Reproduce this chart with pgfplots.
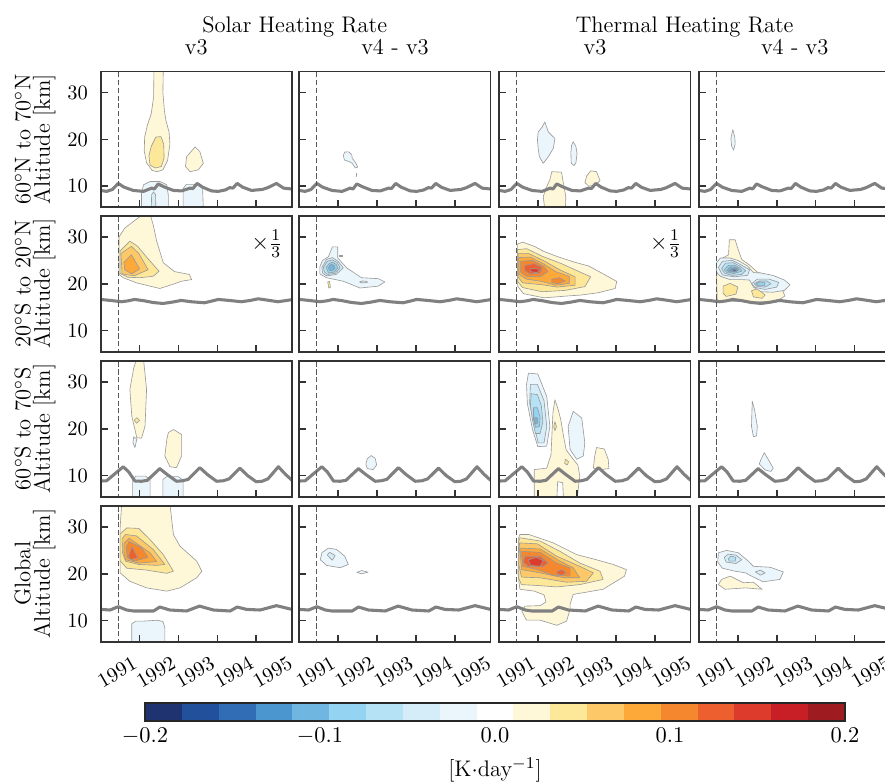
\documentclass[border=0pt]{standalone}
\usepackage{pgfplots}
\usepackage{pgfplotstable}
\pgfplotsset{compat=1.18}
\definecolor{c1}{RGB}{31,51,112}
\definecolor{c2}{RGB}{34,80,155}
\definecolor{c3}{RGB}{49,109,181}
\definecolor{c4}{RGB}{76,150,208}
\definecolor{c5}{RGB}{111,182,224}
\definecolor{c6}{RGB}{148,211,241}
\definecolor{c7}{RGB}{182,226,245}
\definecolor{c8}{RGB}{212,237,248}
\definecolor{c9}{RGB}{234,245,252}
\definecolor{c10}{RGB}{255,255,255}
\definecolor{c11}{RGB}{254,247,216}
\definecolor{c12}{RGB}{252,232,152}
\definecolor{c13}{RGB}{253,201,104}
\definecolor{c14}{RGB}{253,169,58}
\definecolor{c15}{RGB}{245,135,47}
\definecolor{c16}{RGB}{238,95,47}
\definecolor{c17}{RGB}{221,59,43}
\definecolor{c18}{RGB}{200,31,38}
\definecolor{c19}{RGB}{158,27,32}

\pgfplotstableread{
x y
1991.00 9.1
1991.15 8.9
1991.30 9.3
1991.45 10.6
1991.60 9.8
1991.84 9.1
1992.10 8.9
1992.31 9.6
1992.38 9.4
1992.48 10.5
1992.62 9.9
1992.87 9.1
1993.08 9.0
1993.30 9.6
1993.37 9.5
1993.48 10.6
1993.62 9.8
1993.85 9.0
1994.02 8.9
1994.20 9.2
1994.32 9.7
1994.40 9.6
1994.51 10.6
1994.65 9.8
1994.88 9.1
1995.00 9.2
1995.15 9.3
1995.30 9.7
1995.52 10.6
1995.70 9.6
1995.92 9.4
}\tpA
\pgfplotstableread{
x y
1991.00 16.66
1991.25 16.45
1991.53 16.17
1991.70 16.35
1991.87 16.66
1992.10 16.40
1992.35 16.00
1992.60 15.80
1992.85 16.10
1993.07 16.45
1993.35 16.15
1993.67 15.95
1993.85 16.30
1994.02 16.66
1994.30 16.45
1994.62 16.17
1994.85 16.45
1995.05 16.80
1995.30 16.50
1995.56 16.17
1995.75 16.40
1995.95 16.66
}\tpB
\pgfplotstableread{
x y
1991.00 8.85
1991.15 8.90
1991.58 11.90
1991.72 10.80
1991.88 8.85
1992.05 8.80
1992.20 9.00
1992.52 11.50
1992.70 10.30
1992.95 8.80
1993.10 8.90
1993.25 9.20
1993.55 11.70
1993.75 10.20
1993.98 8.80
1994.15 8.90
1994.30 9.30
1994.58 11.60
1994.78 10.00
1995.00 8.70
1995.15 8.80
1995.30 9.30
1995.57 11.90
1995.75 10.30
1995.92 9.00
}\tpC
\pgfplotstableread{
x y
1991.00 12.40
1991.24 12.27
1991.45 12.98
1991.67 12.27
1991.84 12.06
1992.36 12.06
1992.52 12.91
1992.78 12.27
1993.21 12.06
1993.54 13.10
1993.90 12.27
1994.33 12.06
1994.51 12.91
1994.75 12.40
1995.10 12.27
1995.52 13.20
1995.92 12.40
}\tpD

\pgfplotsset{
  panel/.style={anchor=south west, scale only axis, width=93.37pt, height=66.28pt,
    xmin=1991, xmax=1995.92, ymin=5.5, ymax=34.5,
    xtick={1991,1992,1993,1994,1995}, ytick={10,20,30},
    xticklabels={}, yticklabels={},
    tick align=inside, xtick pos=left, ytick pos=left,
    major tick length=3.5pt, axis on top,
    axis line style={line width=0.8pt, black!80},
    tick style={line width=0.8pt, black!80},
    tick label style={font=\fontsize{10}{12}\selectfont},
    yticklabel style={xshift=-2.7pt}},
  lab/.style={yticklabels={10,20,30}, ylabel={#1},
    ylabel style={align=center, font=\fontsize{11}{9.5}\selectfont,
      at={(axis description cs:-0.2337,0.5)}, anchor=south, inner sep=0pt}},
  xlab/.style={xticklabels={1991,1992,1993,1994,1995},
    xticklabel style={xshift=8pt, yshift=-14.9pt, rotate=30, anchor=center}},
}
\tikzset{cl/.style={draw=black!40, line width=0.3pt, line join=round},
  tp/.style={black!50, line width=1.5pt, line join=round},
  pin/.style={black!65, line width=0.6pt, dash pattern=on 2.5pt off 1.3pt}}

\begin{document}
\begin{tikzpicture}[x=0.4881pt, y=0.4881pt]
\useasboundingbox (0,0) rectangle (885,782);

\node[font=\fontsize{11}{13}\selectfont, anchor=base] at (294.7,749.7) {Solar Heating Rate};
\node[font=\fontsize{11}{13}\selectfont, anchor=base] at (684.5,749.7) {Thermal Heating Rate};
\node[font=\fontsize{11}{13}\selectfont, anchor=base] at (196.3,727) {v3};
\node[font=\fontsize{11}{13}\selectfont, anchor=base] at (395.0,727) {v4 - v3};
\node[font=\fontsize{11}{13}\selectfont, anchor=base] at (595.0,727) {v3};
\node[font=\fontsize{11}{13}\selectfont, anchor=base] at (794.7,727) {v4 - v3};

% ---------------- Row 1 ----------------
\begin{axis}[panel, at={(49.15pt,280.51pt)}, lab={60$^\circ$N to 70$^\circ$N\\Altitude [km]}]
\addplot[fill=c11,cl] coordinates {(1992.37,35) (1992.61,35) (1992.6,30) (1992.64,26) (1992.68,24) (1992.76,21.5) (1992.78,19) (1992.72,15.5) (1992.6,13.5) (1992.45,13.1) (1992.32,13.4) (1992.18,15) (1992.12,17.5) (1992.13,20.5) (1992.2,23) (1992.3,25.5) (1992.36,29)} -- cycle;
\addplot[fill=c12,cl] coordinates {(1992.42,20.5) (1992.55,20.6) (1992.62,19) (1992.63,16) (1992.56,14.2) (1992.4,13.9) (1992.27,14.5) (1992.24,16.5) (1992.3,18.5)} -- cycle;
\addplot[fill=c11,cl] coordinates {(1993.43,18.4) (1993.55,17.4) (1993.64,14.9) (1993.51,13.5) (1993.3,13.1) (1993.18,14.2) (1993.21,16.3)} -- cycle;
\addplot[fill=c9,cl] coordinates {(1992.05,5) (1992.05,8.5) (1992.1,10.3) (1992.27,11.0) (1992.53,11.0) (1992.7,10.3) (1992.74,8) (1992.74,5)} -- cycle;
\addplot[fill=c8,cl] coordinates {(1992.3,5) (1992.31,8.2) (1992.36,8.8) (1992.41,8.2) (1992.42,5)} -- cycle;
\addplot[fill=c9,cl] coordinates {(1993.12,5) (1993.12,9.5) (1993.2,10.4) (1993.5,10.4) (1993.62,9.8) (1993.64,5)} -- cycle;
\addplot[tp] table {\tpA};
\addplot[pin] coordinates {(1991.45,0) (1991.45,40)};
\end{axis}

\begin{axis}[panel, at={(146.09pt,280.51pt)}]
\addplot[fill=c9,cl] coordinates {(1992.13,16.6) (1992.17,17.3) (1992.27,17.35) (1992.35,16.7) (1992.36,16.0) (1992.45,15.0) (1992.5,14.1) (1992.44,13.9) (1992.36,14.9) (1992.27,15.3) (1992.16,15.6)} -- cycle;
\addplot[fill=c9,cl] coordinates {(1992.455,12.8) (1992.47,12.8) (1992.47,12.1) (1992.455,12.1)} -- cycle;
\addplot[tp] table {\tpA};
\addplot[pin] coordinates {(1991.45,0) (1991.45,40)};
\end{axis}

\begin{axis}[panel, at={(243.71pt,280.51pt)}]
\addplot[fill=c9,cl] coordinates {(1992.17,23.75) (1992.26,21.6) (1992.43,20.2) (1992.39,18.1) (1992.26,16.3) (1992.13,14.9) (1992.03,16.3) (1992.0,18.1) (1991.98,19.85) (1992.0,21.6) (1992.1,22.6)} -- cycle;
\addplot[fill=c9,cl] coordinates {(1992.9,19.5) (1992.97,18.5) (1993.0,17.0) (1992.97,15.0) (1992.92,14.4) (1992.85,14.9) (1992.84,17.2) (1992.86,18.8)} -- cycle;
\addplot[fill=c11,cl] coordinates {(1992.35,13.1) (1992.6,13.0) (1992.64,11.0) (1992.71,7.8) (1992.7,5) (1992.17,5) (1992.13,7.8) (1992.22,9.9) (1992.3,11.4)} -- cycle;
\addplot[fill=c11,cl] coordinates {(1993.35,13.3) (1993.5,13.1) (1993.59,11.2) (1993.48,10.3) (1993.3,10.0) (1993.2,10.8) (1993.25,12.2)} -- cycle;
\addplot[tp] table {\tpA};
\addplot[pin] coordinates {(1991.45,0) (1991.45,40)};
\end{axis}

\begin{axis}[panel, at={(341.18pt,280.51pt)}]
\addplot[fill=c9,cl] coordinates {(1991.87,22.1) (1991.92,20.5) (1991.93,19) (1991.89,17.7) (1991.84,18.5) (1991.82,20.2)} -- cycle;
\addplot[tp] table {\tpA};
\addplot[pin] coordinates {(1991.45,0) (1991.45,40)};
\end{axis}

% ---------------- Row 2 ----------------
\begin{axis}[panel, at={(49.15pt,210.03pt)}, lab={20$^\circ$S to 20$^\circ$N\\Altitude [km]}]
\addplot[fill=c11,cl] coordinates {(1991.47,22) (1991.47,30) (1991.62,31.9) (1991.84,33.3) (1992.05,34.6) (1992.28,34.6) (1992.35,32.6) (1992.44,29.1) (1992.61,24.5) (1992.9,22.6) (1993.28,22.0) (1993.34,20.9) (1993.08,20.55) (1992.86,19.9) (1992.52,19.0) (1991.92,20.2) (1991.58,21.3)} -- cycle;
\addplot[fill=c12,cl] coordinates {(1991.5,27.0) (1991.75,29.1) (1991.95,28.0) (1992.2,25.5) (1992.5,22.7) (1992.35,21.6) (1992.0,21.3) (1991.7,21.4) (1991.5,22.2)} -- cycle;
\addplot[fill=c13,cl] coordinates {(1991.52,26.5) (1991.79,28.0) (1991.98,26.5) (1992.22,23.0) (1991.86,21.7) (1991.55,22.1)} -- cycle;
\addplot[fill=c14,cl] coordinates {(1991.6,24.6) (1991.79,26.2) (1992.0,23.2) (1991.8,22.1) (1991.62,23.0)} -- cycle;
\addplot[tp] table {\tpB};
\addplot[pin] coordinates {(1991.45,0) (1991.45,40)};
\node[anchor=north east, inner sep=0pt, font=\fontsize{11}{13}\selectfont] at (rel axis cs:0.953,0.897) {$\times\frac{1}{3}$};
\end{axis}

\begin{axis}[panel, at={(146.09pt,210.03pt)}]
\addplot[fill=c9,cl] coordinates {(1991.53,23.7) (1991.6,25.0) (1991.75,25.8) (1991.85,27.9) (1991.99,27.9) (1991.99,25.5) (1992.22,23.4) (1992.6,21.3) (1993.03,21.1) (1993.2,20.4) (1993.03,19.5) (1992.56,19.1) (1992.13,20.55) (1991.7,21.3) (1991.53,22.1)} -- cycle;
\addplot[fill=c8,cl] coordinates {(1991.58,23.5) (1991.7,25.2) (1991.85,25.6) (1992.0,24.8) (1992.13,23.4) (1991.95,22.0) (1991.7,21.7) (1991.6,22.3)} -- cycle;
\addplot[fill=c7,cl] coordinates {(1991.62,23.5) (1991.72,24.8) (1991.85,25.1) (1991.98,24.5) (1992.05,23.4) (1991.92,22.2) (1991.72,22.0) (1991.64,22.6)} -- cycle;
\addplot[fill=c6,cl] coordinates {(1991.69,23.5) (1991.78,24.4) (1991.86,24.6) (1991.95,24.1) (1991.99,23.4) (1991.9,22.5) (1991.75,22.3)} -- cycle;
\addplot[fill=c5,cl] coordinates {(1991.75,23.5) (1991.82,24.2) (1991.9,23.9) (1991.92,23.3) (1991.84,22.8) (1991.77,22.9)} -- cycle;
\addplot[fill=c8,cl] coordinates {(1992.55,20.4) (1992.62,20.6) (1992.72,20.55) (1992.76,20.35) (1992.66,20.2) (1992.57,20.25)} -- cycle;
\addplot[fill=c12,cl] coordinates {(1991.73,20.4) (1991.78,20.5) (1991.8,19.2) (1991.76,19.1)} -- cycle;
\addplot[fill=c12,cl] coordinates {(1992.02,26.0) (1992.1,26.0) (1992.1,25.85) (1992.02,25.85)} -- cycle;
\addplot[tp] table {\tpB};
\addplot[pin] coordinates {(1991.45,0) (1991.45,40)};
\end{axis}

\begin{axis}[panel, at={(243.71pt,210.03pt)}]
\addplot[fill=c11,cl] coordinates {(1991.47,28.5) (1991.6,28.9) (1991.9,28.0) (1992.15,26.9) (1992.5,25.8) (1992.9,24.7) (1993.3,23.8) (1993.7,22.0) (1994.02,20.5) (1993.98,19.0) (1993.55,18.1) (1993.1,17.6) (1992.75,17.4) (1992.15,17.0) (1991.62,17.9) (1991.47,19.5)} -- cycle;
\addplot[fill=c12,cl] coordinates {(1991.47,27.3) (1991.7,27.5) (1992.1,25.9) (1992.6,24.3) (1993.0,22.8) (1993.35,21.5) (1993.2,19.4) (1992.7,18.6) (1992.1,18.3) (1991.6,19.2) (1991.47,20.5)} -- cycle;
\addplot[fill=c13,cl] coordinates {(1991.48,26.5) (1991.75,26.5) (1992.15,24.9) (1992.55,23.0) (1992.95,21.5) (1992.95,19.7) (1992.5,19.3) (1992.1,19.8) (1991.6,20.2) (1991.48,21.5)} -- cycle;
\addplot[fill=c14,cl] coordinates {(1991.5,25.6) (1991.8,25.7) (1992.15,24.2) (1992.45,22.6) (1992.8,21.6) (1992.8,20.1) (1992.45,19.7) (1992.1,20.5) (1991.7,21.0) (1991.5,22.0)} -- cycle;
\addplot[fill=c15,cl] coordinates {(1991.55,24.8) (1991.85,25.0) (1992.15,23.7) (1992.25,22.6) (1992.05,21.5) (1991.7,21.6) (1991.55,22.5)} -- cycle;
\addplot[fill=c15,cl] coordinates {(1992.35,21.0) (1992.55,21.3) (1992.7,20.6) (1992.5,20.0) (1992.35,20.3)} -- cycle;
\addplot[fill=c16,cl] coordinates {(1991.65,23.9) (1991.9,24.3) (1992.1,23.5) (1992.05,22.3) (1991.8,22.1) (1991.65,22.8)} -- cycle;
\addplot[fill=c17,cl] coordinates {(1991.8,23.2) (1991.95,23.3) (1992.05,22.8) (1991.95,22.4) (1991.8,22.6)} -- cycle;
\addplot[tp] table {\tpB};
\addplot[pin] coordinates {(1991.45,0) (1991.45,40)};
\node[anchor=north east, inner sep=0pt, font=\fontsize{11}{13}\selectfont] at (rel axis cs:0.953,0.897) {$\times\frac{1}{3}$};
\end{axis}

\begin{axis}[panel, at={(341.18pt,210.03pt)}]
\addplot[fill=c11,cl] coordinates {(1991.76,26.2) (1991.78,29.4) (1991.93,29.4) (1992.0,27.5) (1992.1,25.2) (1992.3,24.0) (1992.5,22.5) (1992.9,21.5) (1993.1,19.5) (1993.21,17.4) (1993.0,16.3) (1992.4,16.1) (1991.8,16.3) (1991.47,16.3) (1991.45,21.3) (1991.5,25.0)} -- cycle;
\addplot[fill=c12,cl] coordinates {(1991.62,19.5) (1991.8,20.1) (1992.0,19.3) (1991.95,17.8) (1991.7,17.3) (1991.62,18.0)} -- cycle;
\addplot[fill=c12,cl] coordinates {(1992.35,18.5) (1992.5,19.0) (1992.7,17.6) (1992.62,16.9) (1992.4,17.2)} -- cycle;
\addplot[fill=c9,cl] coordinates {(1991.45,24.5) (1991.55,25.5) (1991.8,25.5) (1992.0,25.0) (1992.25,23.8) (1992.4,22.4) (1992.6,22.3) (1992.9,21.8) (1993.2,20.8) (1993.34,19.8) (1993.2,18.6) (1992.9,18.2) (1992.6,18.3) (1992.4,19.3) (1992.3,20.8) (1992.1,20.9) (1991.8,20.9) (1991.55,21.6) (1991.45,22.5)} -- cycle;
\addplot[fill=c8,cl] coordinates {(1991.5,23.5) (1991.6,24.8) (1991.85,25.0) (1992.05,24.2) (1992.3,23.0) (1992.25,21.8) (1991.9,21.5) (1991.6,21.9)} -- cycle;
\addplot[fill=c7,cl] coordinates {(1991.58,23.3) (1991.68,24.4) (1991.88,24.5) (1992.05,23.8) (1992.2,22.8) (1992.1,22.0) (1991.85,21.8) (1991.65,22.3)} -- cycle;
\addplot[fill=c6,cl] coordinates {(1991.65,23.0) (1991.75,23.9) (1991.9,24.0) (1992.05,23.4) (1992.1,22.7) (1991.9,22.2) (1991.72,22.4)} -- cycle;
\addplot[fill=c5,cl] coordinates {(1991.72,22.9) (1991.8,23.6) (1991.93,23.6) (1992.03,23.1) (1991.95,22.5) (1991.78,22.5)} -- cycle;
\addplot[fill=c4,cl] coordinates {(1991.78,22.8) (1991.85,23.3) (1991.97,23.3) (1992.0,22.9) (1991.9,22.55)} -- cycle;
\addplot[fill=c3,cl] coordinates {(1991.83,22.8) (1991.9,23.15) (1991.98,23.0) (1991.93,22.65)} -- cycle;
\addplot[fill=c8,cl] coordinates {(1992.35,20.0) (1992.5,21.0) (1992.8,21.0) (1993.05,20.3) (1993.0,19.3) (1992.7,18.8) (1992.45,19.2)} -- cycle;
\addplot[fill=c7,cl] coordinates {(1992.42,20.0) (1992.55,20.6) (1992.75,20.6) (1992.85,20.0) (1992.7,19.3) (1992.5,19.4)} -- cycle;
\addplot[fill=c6,cl] coordinates {(1992.47,20.0) (1992.57,20.4) (1992.7,20.2) (1992.68,19.6) (1992.53,19.6)} -- cycle;
\addplot[tp] table {\tpB};
\addplot[pin] coordinates {(1991.45,0) (1991.45,40)};
\end{axis}

% ---------------- Row 3 ----------------
\begin{axis}[panel, at={(49.15pt,139.25pt)}, lab={60$^\circ$S to 70$^\circ$S\\Altitude [km]}]
\addplot[fill=c11,cl] coordinates {(1991.93,35) (1992.1,35) (1992.18,28.4) (1992.14,20.55) (1992.05,18.0) (1991.93,18.1) (1991.8,22.7) (1991.75,28.4) (1991.85,33)} -- cycle;
\addplot[fill=c12,cl] coordinates {(1991.93,22.4) (1992.0,21.8) (1991.93,21.2) (1991.86,21.8)} -- cycle;
\addplot[fill=c9,cl] coordinates {(1991.85,18.3) (1991.93,17.8) (1991.88,16.0) (1991.83,17.0)} -- cycle;
\addplot[fill=c11,cl] coordinates {(1992.87,19.85) (1993.08,18.8) (1993.08,14.2) (1992.95,11.7) (1992.78,11.9) (1992.65,14.2) (1992.7,17.7) (1992.74,19.2)} -- cycle;
\addplot[fill=c9,cl] coordinates {(1991.82,5) (1991.82,9.0) (1991.9,9.9) (1992.15,9.9) (1992.27,9.2) (1992.27,5)} -- cycle;
\addplot[fill=c9,cl] coordinates {(1992.6,5) (1992.6,9.2) (1992.7,9.8) (1993.0,9.8) (1993.12,9.0) (1993.12,5)} -- cycle;
\addplot[tp] table {\tpC};
\addplot[pin] coordinates {(1991.45,0) (1991.45,40)};
\end{axis}

\begin{axis}[panel, at={(146.09pt,139.25pt)}]
\addplot[fill=c9,cl] coordinates {(1992.85,14.3) (1992.95,13.7) (1992.99,12.3) (1992.9,11.3) (1992.75,11.5) (1992.71,12.5) (1992.75,13.6)} -- cycle;
\addplot[tp] table {\tpC};
\addplot[pin] coordinates {(1991.45,0) (1991.45,40)};
\end{axis}

\begin{axis}[panel, at={(243.71pt,139.25pt)}]
\addplot[fill=c11,cl] coordinates {(1992.43,26.2) (1992.5,24.5) (1992.58,22.0) (1992.65,18.5) (1992.72,15.5) (1992.9,13.5) (1993.02,12.3) (1993.07,9.9) (1993.0,5) (1992.65,5) (1992.63,8.5) (1992.5,8.7) (1992.48,5) (1991.9,5) (1991.9,11.3) (1992.22,11.6) (1992.33,14.5) (1992.36,20.0) (1992.38,23.5)} -- cycle;
\addplot[fill=c12,cl] coordinates {(1992.43,21.5) (1992.47,20.5) (1992.43,19.6) (1992.4,20.5)} -- cycle;
\addplot[fill=c12,cl] coordinates {(1992.7,13.5) (1992.78,13.0) (1992.75,12.3) (1992.68,12.6)} -- cycle;
\addplot[fill=c11,cl] coordinates {(1993.5,16.0) (1993.7,15.7) (1993.8,13.5) (1993.82,11.5) (1993.6,11.3) (1993.42,11.6) (1993.45,14)} -- cycle;
\addplot[fill=c9,cl] coordinates {(1991.75,31.9) (1991.99,31.7) (1992.22,26.9) (1992.3,20.55) (1992.22,16.3) (1991.99,16.2) (1991.85,20.0) (1991.72,25.5) (1991.7,29.5)} -- cycle;
\addplot[fill=c8,cl] coordinates {(1991.8,29.5) (1991.98,29.5) (1992.15,26) (1992.22,20.5) (1992.15,17.0) (1992.0,17.0) (1991.9,20.5) (1991.78,25.5)} -- cycle;
\addplot[fill=c7,cl] coordinates {(1991.82,27.5) (1991.98,27.3) (1992.08,25) (1992.12,21.5) (1992.05,19.0) (1991.93,19.0) (1991.85,22.0) (1991.8,25)} -- cycle;
\addplot[fill=c6,cl] coordinates {(1991.88,24.5) (1991.98,24.5) (1992.05,22.5) (1992.03,20.5) (1991.93,20.3) (1991.88,22.0)} -- cycle;
\addplot[fill=c5,cl] coordinates {(1991.92,22.5) (1991.98,22.3) (1991.99,21.3) (1991.93,21.0) (1991.9,21.8)} -- cycle;
\addplot[fill=c9,cl] coordinates {(1992.9,23.75) (1993.12,22.3) (1993.2,17.0) (1993.16,14.2) (1992.99,13.5) (1992.82,15.6) (1992.77,20.5)} -- cycle;
\addplot[tp] table {\tpC};
\addplot[pin] coordinates {(1991.45,0) (1991.45,40)};
\end{axis}

\begin{axis}[panel, at={(341.18pt,139.25pt)}]
\addplot[fill=c9,cl] coordinates {(1992.37,25.9) (1992.43,24) (1992.5,20.5) (1992.48,18.5) (1992.4,18.3) (1992.35,20.5) (1992.36,23.5)} -- cycle;
\addplot[fill=c9,cl] coordinates {(1992.68,14.9) (1992.8,13.2) (1992.91,11.6) (1992.85,10.9) (1992.7,11.2) (1992.55,12.5) (1992.6,13.6)} -- cycle;
\addplot[tp] table {\tpC};
\addplot[pin] coordinates {(1991.45,0) (1991.45,40)};
\end{axis}

% ---------------- Row 4 ----------------
\begin{axis}[panel, xlab, at={(49.15pt,68.48pt)}, lab={Global\\Altitude [km]}]
\addplot[fill=c11,cl] coordinates {(1991.54,35) (1992.78,35) (1992.87,28.4) (1993.04,25.9) (1993.47,22.7) (1993.6,20.55) (1993.47,19.15) (1993.04,17.0) (1992.7,16.3) (1992.18,17.0) (1991.75,18.4) (1991.5,20.2) (1991.5,29.8)} -- cycle;
\addplot[fill=c12,cl] coordinates {(1991.5,28.5) (1991.67,29.8) (1991.98,29.7) (1992.27,27.3) (1992.61,24.1) (1992.87,20.55) (1992.7,20.1) (1992.18,20.8) (1991.67,21.2) (1991.5,22.8)} -- cycle;
\addplot[fill=c13,cl] coordinates {(1991.55,27.5) (1991.64,28.4) (1991.92,28.1) (1992.35,25.2) (1992.65,22.0) (1992.44,21.8) (1991.98,22.0) (1991.64,22.7) (1991.56,24.5)} -- cycle;
\addplot[fill=c14,cl] coordinates {(1991.6,26.5) (1991.73,27.6) (1992.27,24.5) (1992.44,22.6) (1991.98,22.3) (1991.64,23.0) (1991.6,24.5)} -- cycle;
\addplot[fill=c15,cl] coordinates {(1991.66,25.8) (1991.73,26.9) (1992.05,25.6) (1992.22,23.5) (1991.86,22.7) (1991.68,23.5)} -- cycle;
\addplot[fill=c16,cl] coordinates {(1991.75,24.5) (1991.8,25.8) (1991.95,23.5) (1991.77,23.0) (1991.72,23.8)} -- cycle;
\addplot[fill=c9,cl] coordinates {(1991.8,5) (1991.8,9.3) (1991.9,9.9) (1992.1,9.9) (1992.3,10.0) (1992.45,10.1) (1992.6,9.8) (1992.65,8.5) (1992.65,5)} -- cycle;
\addplot[tp] table {\tpD};
\addplot[pin] coordinates {(1991.45,0) (1991.45,40)};
\end{axis}

\begin{axis}[panel, xlab, at={(146.09pt,68.48pt)}]
\addplot[fill=c9,cl] coordinates {(1991.58,24.5) (1991.75,25.5) (1991.96,25.2) (1992.17,23.75) (1992.26,22.0) (1992.05,21.3) (1991.7,21.8) (1991.54,23.0)} -- cycle;
\addplot[fill=c8,cl] coordinates {(1991.72,24.0) (1991.78,24.6) (1991.92,23.9) (1991.85,22.9)} -- cycle;
\addplot[fill=c9,cl] coordinates {(1992.48,20.3) (1992.6,20.7) (1992.77,20.35) (1992.6,20.0)} -- cycle;
\addplot[tp] table {\tpD};
\addplot[pin] coordinates {(1991.45,0) (1991.45,40)};
\end{axis}

\begin{axis}[panel, xlab, at={(243.71pt,68.48pt)}]
\addplot[fill=c11,cl] coordinates {(1991.5,27.8) (1991.53,28.4) (1991.76,28.4) (1992.39,26.6) (1992.99,24.1) (1993.5,23.0) (1993.93,22.0) (1994.27,20.9) (1994.22,19.5) (1993.67,16.7) (1992.9,15.6) (1992.82,13.5) (1992.82,12.4) (1992.73,9.9) (1992.48,9.0) (1992.05,10.1) (1991.7,10.1) (1991.58,12.0) (1991.66,13.1) (1992.05,13.2) (1992.2,14.0) (1992.15,15.5) (1991.9,16.3) (1991.53,16.7) (1991.48,20)} -- cycle;
\addplot[fill=c12,cl] coordinates {(1991.5,27.0) (1991.53,27.7) (1992.05,27.0) (1992.56,24.8) (1993.07,22.3) (1993.59,20.55) (1993.67,18.8) (1993.07,17.7) (1992.48,17.2) (1992.0,17.5) (1991.57,17.7) (1991.5,19)} -- cycle;
\addplot[fill=c13,cl] coordinates {(1991.52,26.6) (1991.98,26.4) (1992.48,23.75) (1993.07,21.6) (1993.42,20.2) (1993.24,18.4) (1992.73,18.2) (1992.05,19.15) (1991.57,19.3) (1991.5,22)} -- cycle;
\addplot[fill=c14,cl] coordinates {(1991.53,25.5) (1992.05,25.3) (1992.56,22.7) (1992.9,21.3) (1993.07,19.15) (1992.65,19.15) (1992.05,20.2) (1991.57,20.9)} -- cycle;
\addplot[fill=c15,cl] coordinates {(1991.57,24.8) (1992.05,24.6) (1992.48,22.3) (1992.82,21.3) (1992.82,19.5) (1992.39,19.7) (1991.98,20.9) (1991.6,21.6)} -- cycle;
\addplot[fill=c16,cl] coordinates {(1991.66,23.75) (1992.05,23.75) (1992.26,22.3) (1992.13,21.6) (1991.74,21.6) (1991.62,22.5)} -- cycle;
\addplot[fill=c16,cl] coordinates {(1992.5,20.6) (1992.62,20.9) (1992.72,20.2) (1992.6,19.7) (1992.48,20.0)} -- cycle;
\addplot[fill=c17,cl] coordinates {(1991.75,23.0) (1991.96,23.5) (1992.13,22.8) (1992.05,21.6) (1991.8,21.8)} -- cycle;
\addplot[tp] table {\tpD};
\addplot[pin] coordinates {(1991.45,0) (1991.45,40)};
\end{axis}

\begin{axis}[panel, xlab, at={(341.18pt,68.48pt)}]
\addplot[fill=c11,cl] coordinates {(1991.58,18.8) (1991.8,19.5) (1992.14,18.1) (1992.4,18.2) (1992.62,16.7) (1992.2,17.0) (1991.67,16.7) (1991.5,17.7)} -- cycle;
\addplot[fill=c9,cl] coordinates {(1991.5,24.5) (1991.71,25.0) (1992.01,24.5) (1992.27,22.7) (1992.4,21.6) (1992.83,21.4) (1993.17,20.4) (1993.08,18.8) (1992.65,18.3) (1992.35,19.5) (1992.2,20.2) (1991.9,20.6) (1991.6,21.2) (1991.48,22.5)} -- cycle;
\addplot[fill=c8,cl] coordinates {(1991.65,23.5) (1991.75,24.2) (1991.95,24.0) (1992.1,23.0) (1991.95,22.2) (1991.7,22.5)} -- cycle;
\addplot[fill=c7,cl] coordinates {(1991.75,23.2) (1991.82,23.8) (1991.95,23.5) (1991.93,22.7) (1991.78,22.7)} -- cycle;
\addplot[fill=c8,cl] coordinates {(1992.45,20.4) (1992.58,20.8) (1992.7,20.2) (1992.58,19.7)} -- cycle;
\addplot[tp] table {\tpD};
\addplot[pin] coordinates {(1991.45,0) (1991.45,40)};
\end{axis}

% ---------------- Colour bar ----------------
\begin{axis}[anchor=south west, at={(70.77pt,29.77pt)}, scale only axis, width=341.67pt, height=8.79pt,
  xmin=-0.2, xmax=0.2, ymin=0, ymax=1, ytick=\empty,
  xtick={-0.2,-0.1,0,0.1,0.2}, xticklabels={$-0.2$,$-0.1$,$0.0$,$0.1$,$0.2$},
  major tick length=0pt, axis on top,
  axis line style={line width=0.8pt, black!85},
  tick label style={font=\fontsize{11}{13}\selectfont},
  xlabel={[K$\cdot$day$^{-1}$]},
  xlabel style={font=\fontsize{11}{13}\selectfont, at={(axis description cs:0.5,0)}, anchor=base, yshift=-27.3pt}]
\addplot[fill=c1,draw=none] coordinates {(-0.2,0) (-0.17895,0) (-0.17895,1) (-0.2,1)} -- cycle;
\addplot[fill=c2,draw=none] coordinates {(-0.17895,0) (-0.15789,0) (-0.15789,1) (-0.17895,1)} -- cycle;
\addplot[fill=c3,draw=none] coordinates {(-0.15789,0) (-0.13684,0) (-0.13684,1) (-0.15789,1)} -- cycle;
\addplot[fill=c4,draw=none] coordinates {(-0.13684,0) (-0.11579,0) (-0.11579,1) (-0.13684,1)} -- cycle;
\addplot[fill=c5,draw=none] coordinates {(-0.11579,0) (-0.09474,0) (-0.09474,1) (-0.11579,1)} -- cycle;
\addplot[fill=c6,draw=none] coordinates {(-0.09474,0) (-0.07368,0) (-0.07368,1) (-0.09474,1)} -- cycle;
\addplot[fill=c7,draw=none] coordinates {(-0.07368,0) (-0.05263,0) (-0.05263,1) (-0.07368,1)} -- cycle;
\addplot[fill=c8,draw=none] coordinates {(-0.05263,0) (-0.03158,0) (-0.03158,1) (-0.05263,1)} -- cycle;
\addplot[fill=c9,draw=none] coordinates {(-0.03158,0) (-0.01053,0) (-0.01053,1) (-0.03158,1)} -- cycle;
\addplot[fill=c10,draw=none] coordinates {(-0.01053,0) (0.01053,0) (0.01053,1) (-0.01053,1)} -- cycle;
\addplot[fill=c11,draw=none] coordinates {(0.01053,0) (0.03158,0) (0.03158,1) (0.01053,1)} -- cycle;
\addplot[fill=c12,draw=none] coordinates {(0.03158,0) (0.05263,0) (0.05263,1) (0.03158,1)} -- cycle;
\addplot[fill=c13,draw=none] coordinates {(0.05263,0) (0.07368,0) (0.07368,1) (0.05263,1)} -- cycle;
\addplot[fill=c14,draw=none] coordinates {(0.07368,0) (0.09474,0) (0.09474,1) (0.07368,1)} -- cycle;
\addplot[fill=c15,draw=none] coordinates {(0.09474,0) (0.11579,0) (0.11579,1) (0.09474,1)} -- cycle;
\addplot[fill=c16,draw=none] coordinates {(0.11579,0) (0.13684,0) (0.13684,1) (0.11579,1)} -- cycle;
\addplot[fill=c17,draw=none] coordinates {(0.13684,0) (0.15789,0) (0.15789,1) (0.13684,1)} -- cycle;
\addplot[fill=c18,draw=none] coordinates {(0.15789,0) (0.17895,0) (0.17895,1) (0.15789,1)} -- cycle;
\addplot[fill=c19,draw=none] coordinates {(0.17895,0) (0.2,0) (0.2,1) (0.17895,1)} -- cycle;
\end{axis}
\end{tikzpicture}
\end{document}
